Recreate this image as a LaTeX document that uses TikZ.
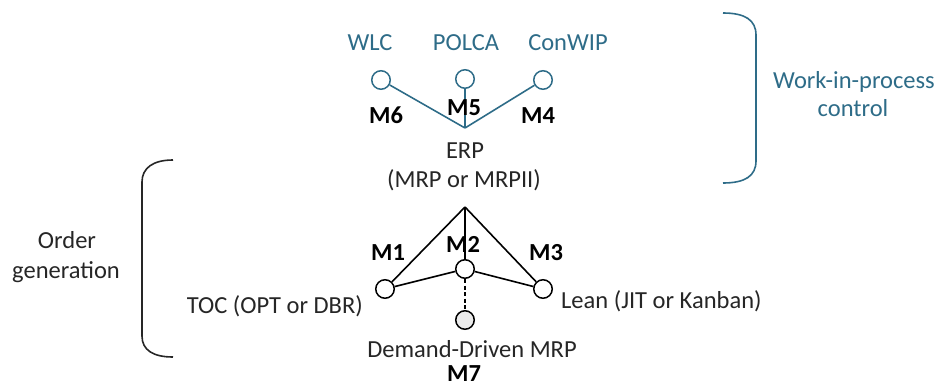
\documentclass[tikz,border=0pt]{standalone}
\usepackage{fontspec}
\setmainfont{Carlito}
\definecolor{teal}{HTML}{2E6C88}
\definecolor{ink}{HTML}{262626}
\begin{document}
\begin{tikzpicture}[x=1pt,y=-1pt,
  lbl/.style={font=\fontsize{24.5}{29}\selectfont, text=ink, inner sep=0pt, anchor=base},
  tlbl/.style={font=\fontsize{24.5}{29}\selectfont, text=teal, inner sep=0pt, anchor=base},
  mlbl/.style={font=\fontsize{24.5}{29}\selectfont\bfseries, text=black, inner sep=0pt, anchor=base},
  dot/.style={circle, draw=black, line width=1.5pt, fill=white, minimum size=18.5pt, inner sep=0pt},
  tdot/.style={circle, draw=teal, line width=1.5pt, fill=white, minimum size=18.5pt, inner sep=0pt},
  link/.style={draw=black, line width=1.6pt},
  tlink/.style={draw=teal, line width=1.6pt},
  brace/.style={line width=1.6pt}]
\useasboundingbox (0,0) rectangle (940,388);

% work-in-process control methods
\coordinate (top) at (465,128);
\node[tdot] (wlc) at (381,80) {};
\node[tdot] (polca) at (465,79) {};
\node[tdot] (conwip) at (543,80) {};
\draw[tlink] (wlc) -- (top);
\draw[tlink] (polca) -- (top);
\draw[tlink] (conwip) -- (top);
\node[tlbl] (twlc) at (370,50) {WLC};
\node[tlbl] (tpolca) at (466,50) {POLCA};
\node[tlbl] (tconwip) at (568,50) {ConWIP};
\node[mlbl] (m6) at (386,123) {M6};
\node[mlbl] (m5) at (464,115) {M5};
\node[mlbl] (m4) at (538,123) {M4};
\node[lbl] (erp) at (465,158) {ERP};
\node[lbl] (mrp) at (464,187) {(MRP or MRPII)};

% order generation methods
\coordinate (apex) at (465,207);
\node[dot] (toc) at (385,289) {};
\node[dot] (m2dot) at (465,269) {};
\node[dot] (lean) at (543,289) {};
\node[dot, fill=black!8] (ddmrp) at (465,320) {};
\draw[link] (apex) -- (toc);
\draw[link] (apex) -- (m2dot);
\draw[link] (apex) -- (lean);
\draw[link] (toc) -- (m2dot);
\draw[link] (m2dot) -- (lean);
\draw[link, dashed, dash pattern=on 4pt off 2.5pt] (m2dot) -- (ddmrp);
\node[mlbl] (m1) at (388,260) {M1};
\node[mlbl] (m2) at (463,252) {M2};
\node[mlbl] (m3) at (546,260) {M3};
\node[lbl, anchor=base east] (ttoc) at (363,313) {TOC (OPT or DBR)};
\node[lbl, anchor=base west] (tlean) at (561,308) {Lean (JIT or Kanban)};
\node[lbl] (tdd) at (472,357) {Demand-Driven MRP};
\node[mlbl] (m7) at (464,381) {M7};

% group braces
\draw[brace, teal] (723,13) .. controls (745,13) and (756,20) .. (756,35)
  -- (756,161) .. controls (756,176) and (745,183) .. (723,183);
\node[tlbl] (wip1) at (854,88) {Work-in-process};
\node[tlbl] (wip2) at (853,116) {control};
\draw[brace, ink] (173,160) .. controls (153,160) and (142,168) .. (142,182)
  -- (142,336) .. controls (142,350) and (153,357) .. (173,357);
\node[lbl] (og1) at (67,248) {Order};
\node[lbl] (og2) at (66,278) {generation};
\end{tikzpicture}
\end{document}
